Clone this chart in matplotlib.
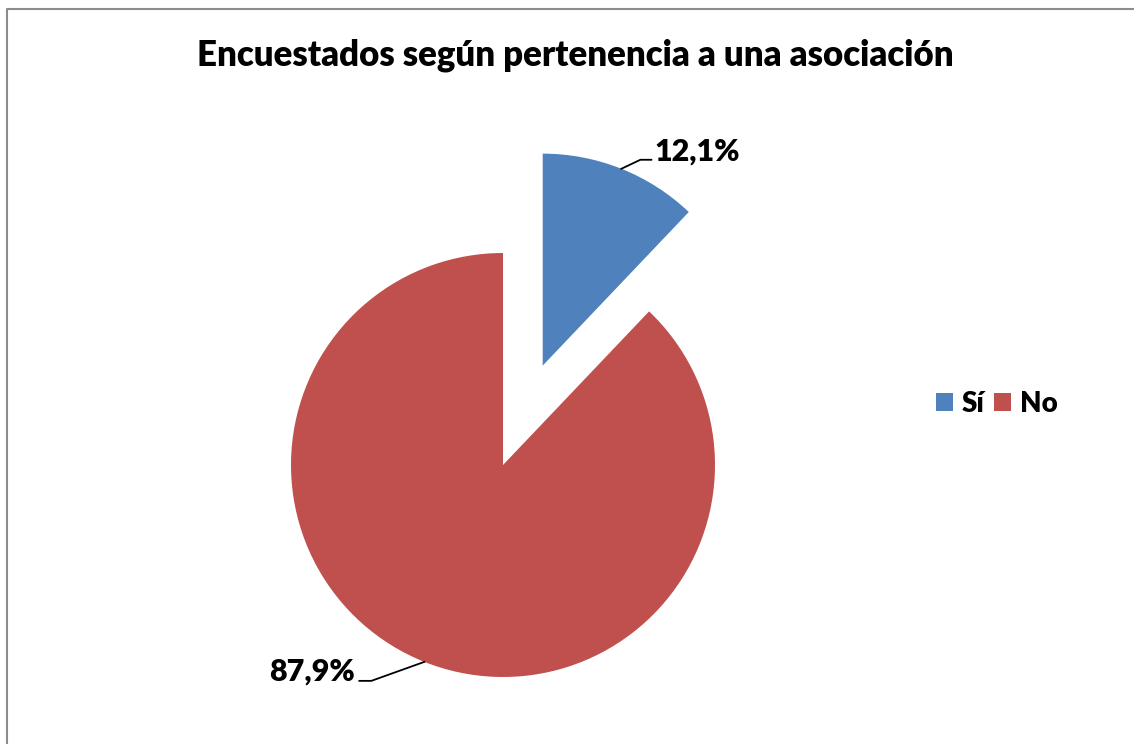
import matplotlib
matplotlib.use("Agg")
import matplotlib.pyplot as plt
import numpy as np

# data
categories = ["Sí", "No"]
values = [12.1, 87.9]
value_labels = ["12,1%", "87,9%"]
colors = ["#4F81BD", "#C0504D"]
title = "Encuestados según pertenencia a una asociación"

plt.rcParams['font.family'] = ['Lato', 'DejaVu Sans']
WEIGHT = 'heavy'

W, H = 1134, 744
fig = plt.figure(figsize=(W / 100, H / 100), dpi=100)
ax = fig.add_axes([0, 0, 1, 1])

# outer frame (right and bottom sides fall outside the picture)
ax.plot([7, 7, W + 5], [-5, H - 9, H - 9], color="#8c8c8c", lw=1.5, clip_on=False)

cx, cy, r = 503, 279, 212
explode = [107, 0]  # pie explode is in data units here
wedges, _ = ax.pie(values, colors=colors, startangle=90, counterclock=False,
                   radius=r, center=(cx, cy), explode=explode,
                   wedgeprops=dict(linewidth=0))
ax.set_xlim(0, W)
ax.set_ylim(0, H)
ax.set_aspect('equal')
ax.axis('off')

# labels with leader lines, anchored on the arc at the wedge bisector
for i, w in enumerate(wedges):
    ang = np.deg2rad((w.theta1 + w.theta2) / 2)
    wx, wy = w.center
    ax_ = wx + r * np.cos(ang)
    ay_ = wy + r * np.sin(ang)
    if np.cos(ang) >= 0:
        ex, ey = ax_ + 19, ay_ + 9
        tx = ex + 11
        ax.plot([ax_, ex, tx], [ay_, ey, ey], color="black", lw=1.3)
        ax.text(tx + 3, ey + 8, value_labels[i], fontsize=22, fontweight=WEIGHT,
                ha='left', va='center')
    else:
        ex, ey = ax_ - 53, ay_ - 19
        tx = ex - 12
        ax.plot([ax_, ex, tx], [ay_, ey, ey], color="black", lw=1.3)
        ax.text(tx - 4, ey + 9, value_labels[i], fontsize=22, fontweight=WEIGHT,
                ha='right', va='center')

ax.text(575, H - 55, title, fontsize=25, fontweight=WEIGHT, ha='center', va='center')

# legend
leg = ax.legend(wedges, categories, loc='center left', bbox_to_anchor=(925 / W, (H - 404) / H),
                ncol=2, frameon=False, handlelength=0.62, handleheight=0.62,
                handletextpad=0.3, columnspacing=0.35, borderaxespad=0,
                prop=dict(weight=WEIGHT, size=20))

fig.savefig("out.png", dpi=100)
